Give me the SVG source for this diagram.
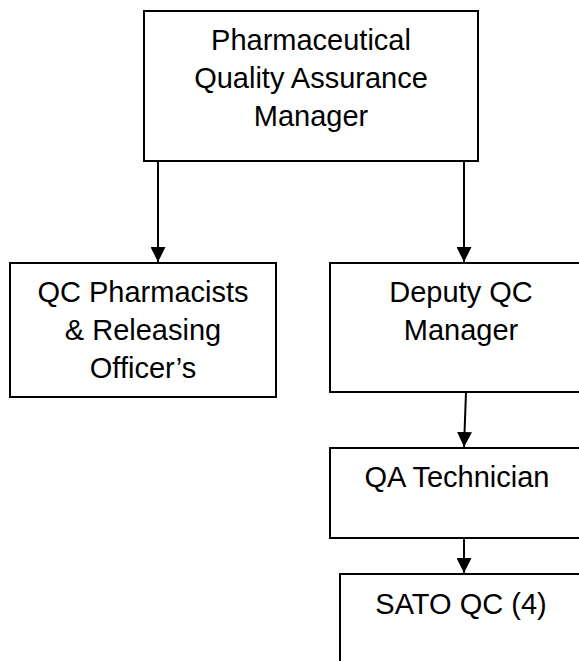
<svg xmlns="http://www.w3.org/2000/svg" width="579" height="661" viewBox="0 0 579 661">
<defs>
<style>
.box{fill:#fff;stroke:#000;stroke-width:2}
.t{font-family:"Liberation Sans",Arial,sans-serif;font-size:29px;fill:#000;text-anchor:middle}
.c{stroke:#000;stroke-width:2;fill:none}
</style>
<marker id="ah" viewBox="0 0 15 15" refX="15" refY="7.5" markerWidth="15" markerHeight="15" markerUnits="userSpaceOnUse" orient="auto">
<path d="M0,0 L15,7.5 L0,15 Z" fill="#000"/>
</marker>
</defs>
<rect width="579" height="661" fill="#fff"/>
<g id="n-qa-manager">
<rect class="box" x="144" y="11" width="334" height="150"/>
<text class="t" x="311" y="50">Pharmaceutical</text>
<text class="t" x="311" y="88">Quality Assurance</text>
<text class="t" x="311" y="126">Manager</text>
</g>
<g id="n-qc-pharmacists">
<rect class="box" x="10" y="263" width="266" height="134"/>
<text class="t" x="143" y="302">QC Pharmacists</text>
<text class="t" x="143" y="340">&amp; Releasing</text>
<text class="t" x="143" y="378">Officer’s</text>
</g>
<g id="n-deputy">
<rect class="box" x="330" y="263" width="270" height="129"/>
<text class="t" x="461" y="302">Deputy QC</text>
<text class="t" x="461" y="340">Manager</text>
</g>
<g id="n-qa-tech">
<rect class="box" x="330" y="448" width="270" height="90"/>
<text class="t" x="457" y="487">QA Technician</text>
</g>
<g id="n-sato">
<rect class="box" x="340" y="574" width="260" height="100"/>
<text class="t" x="461" y="614">SATO QC (4)</text>
</g>
<g id="connectors">
<line class="c" x1="158" y1="161" x2="158" y2="262" marker-end="url(#ah)"/>
<line class="c" x1="464" y1="161" x2="464" y2="262" marker-end="url(#ah)"/>
<line class="c" x1="466" y1="392" x2="464" y2="447" marker-end="url(#ah)"/>
<line class="c" x1="464" y1="538" x2="464" y2="573" marker-end="url(#ah)"/>
</g>
</svg>
